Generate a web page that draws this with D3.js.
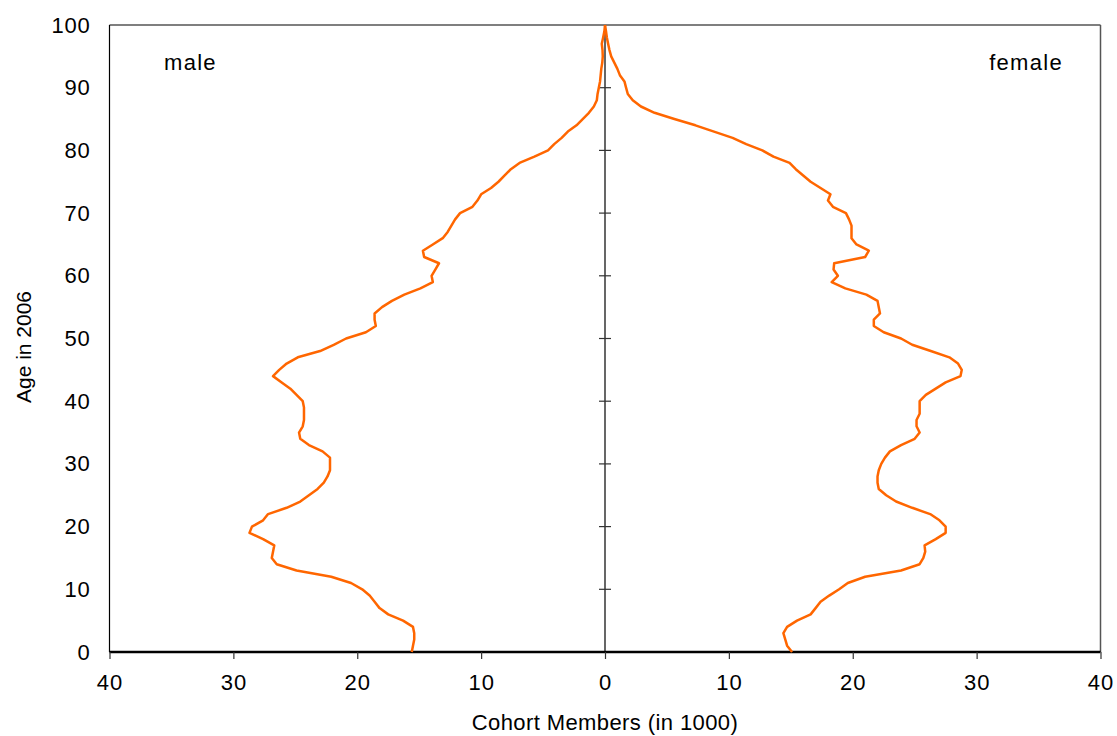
<!DOCTYPE html>
<html>
<head>
<meta charset="utf-8">
<script src="https://cdn.jsdelivr.net/npm/d3@7"></script>
<style>
  body { margin: 0; background: #fff; }
  text { font-family: "Liberation Sans", Arial, sans-serif; fill: #000; }
</style>
</head>
<body>
<svg id="chart" width="1117" height="736"></svg>
<script>
// Ages 0..100
const ages = d3.range(0, 101);
// Male cohort members (in 1000), by age 0..100
const male = [
  15.6, 15.5, 15.4, 15.4, 15.5, 16.3, 17.5, 18.2, 18.6, 19.0,
  19.6, 20.5, 22.1, 24.9, 26.5, 26.9, 26.8, 26.7, 27.6, 28.7,
  28.5, 27.6, 27.2, 25.7, 24.6, 23.9, 23.2, 22.7, 22.4, 22.2,
  22.2, 22.2, 22.8, 23.9, 24.6, 24.7, 24.4, 24.3, 24.3, 24.3,
  24.4, 24.9, 25.4, 26.1, 26.8, 26.3, 25.7, 24.8, 23.0, 21.9,
  20.9, 19.3, 18.5, 18.6, 18.6, 18.0, 17.2, 16.2, 14.9, 13.9,
  14.0, 13.7, 13.4, 14.6, 14.7, 13.9, 13.1, 12.7, 12.4, 12.1,
  11.7, 10.7, 10.3, 10.0, 9.2, 8.6, 8.1, 7.6, 6.9, 5.7,
  4.6, 4.1, 3.5, 3.0, 2.3, 1.8, 1.3, 0.9, 0.66, 0.6,
  0.5, 0.4, 0.35, 0.3, 0.22, 0.18, 0.2, 0.26, 0.15, 0.05,
  0.0
];
// Female cohort members (in 1000), by age 0..100
const female = [
  15.1, 14.7, 14.55, 14.4, 14.7, 15.5, 16.6, 17.0, 17.4, 18.1,
  18.9, 19.6, 21.0, 23.9, 25.4, 25.7, 25.85, 25.8, 26.7, 27.5,
  27.5, 27.0, 26.25, 24.8, 23.5, 22.7, 22.1, 22.0, 22.0, 22.1,
  22.3, 22.6, 23.0, 23.9, 25.0, 25.4, 25.15, 25.15, 25.4, 25.4,
  25.4, 25.9, 26.7, 27.5, 28.7, 28.8, 28.5, 27.8, 26.3, 24.8,
  23.9, 22.5, 21.7, 21.7, 22.2, 22.1, 22.0, 21.1, 19.4, 18.3,
  18.8, 18.45, 18.5, 21.0, 21.3, 20.3, 19.9, 19.9, 19.9, 19.7,
  19.45, 18.4, 18.0, 18.2, 17.4, 16.6, 16.0, 15.4, 14.9, 13.6,
  12.7, 11.4, 10.3, 8.8, 7.3, 5.6, 4.0, 2.9, 2.24, 1.84,
  1.7, 1.57, 1.2, 1.0, 0.75, 0.5, 0.36, 0.25, 0.15, 0.08,
  0.0
];
const xTickValues = [-40, -30, -20, -10, 0, 10, 20, 30, 40];
const yTickValues = [0, 10, 20, 30, 40, 50, 60, 70, 80, 90, 100];
const xTitle = "Cohort Members (in 1000)";
const yTitle = "Age in 2006";
const sexLabels = ["male", "female"];

const svg = d3.select("#chart");
const L = 109.5, R = 1100.5, T = 25, B = 652;
const x = d3.scaleLinear().domain([-40, 40]).range([L, R]);
const y = d3.scaleLinear().domain([0, 100]).range([B, T]);

// frame
svg.append("line").attr("x1", L).attr("x2", R).attr("y1", T).attr("y2", T)
  .attr("stroke", "#555").attr("stroke-width", 1.5);
svg.append("line").attr("x1", R).attr("x2", R).attr("y1", T).attr("y2", B)
  .attr("stroke", "#555").attr("stroke-width", 1.5);
svg.append("line").attr("x1", L).attr("x2", L).attr("y1", T).attr("y2", B)
  .attr("stroke", "#000").attr("stroke-width", 1.2);

// center vertical axis with cross ticks
const inner = yTickValues.filter(d => d > 0 && d < 100);
const cg = svg.append("g");
cg.append("line").attr("x1", x(0)).attr("x2", x(0)).attr("y1", T).attr("y2", B)
  .attr("stroke", "#000").attr("stroke-width", 1.2);
cg.selectAll("line.tk").data(inner).enter()
  .append("line").attr("class", "tk")
  .attr("x1", x(0) - 6).attr("x2", x(0) + 6)
  .attr("y1", d => y(d)).attr("y2", d => y(d))
  .attr("stroke", "#333").attr("stroke-width", 1.2);

// left tick labels (no tick marks)
const yg = svg.append("g").attr("transform", `translate(${L},0)`)
  .call(d3.axisLeft(y).tickValues(yTickValues).tickSize(0).tickPadding(19));
yg.select(".domain").remove();
yg.selectAll("text").style("font-size", "22px").style("letter-spacing", "0.8px")
  .attr("font-family", null);

// bottom axis
const xg = svg.append("g").attr("transform", `translate(0,${B})`)
  .call(d3.axisBottom(x).tickValues(xTickValues).tickSize(7).tickPadding(15)
    .tickFormat(d => Math.abs(d)));
xg.select(".domain").attr("stroke", "#000").attr("stroke-width", 2.5)
  .attr("d", `M${L},0H${R}`);
xg.selectAll(".tick line").attr("stroke", "#333").attr("stroke-width", 1.2);
xg.selectAll("text").style("font-size", "22px").style("letter-spacing", "1px")
  .attr("font-family", null);

// lines
const maleLine = d3.line().x((d, i) => x(-male[i])).y(d => y(d));
const femaleLine = d3.line().x((d, i) => x(female[i])).y(d => y(d));
svg.append("path").datum(ages).attr("d", maleLine)
  .attr("fill", "none").attr("stroke", "#FF6600").attr("stroke-width", 2.5)
  .attr("stroke-linejoin", "round");
svg.append("path").datum(ages).attr("d", femaleLine)
  .attr("fill", "none").attr("stroke", "#FF6600").attr("stroke-width", 2.5)
  .attr("stroke-linejoin", "round");

// labels
svg.append("text").attr("x", 164).attr("y", 70).style("font-size", "22px")
  .style("letter-spacing", "1.3px").text(sexLabels[0]);
svg.append("text").attr("x", 1063).attr("y", 70).attr("text-anchor", "end")
  .style("font-size", "22px").style("letter-spacing", "1.3px").text(sexLabels[1]);

// titles
svg.append("text").attr("x", x(0)).attr("y", 730).attr("text-anchor", "middle")
  .style("font-size", "22px").style("letter-spacing", "0.4px").text(xTitle);
svg.append("text").attr("transform", `translate(31,347) rotate(-90)`)
  .attr("text-anchor", "middle").style("font-size", "21px").text(yTitle);
</script>
</body>
</html>
